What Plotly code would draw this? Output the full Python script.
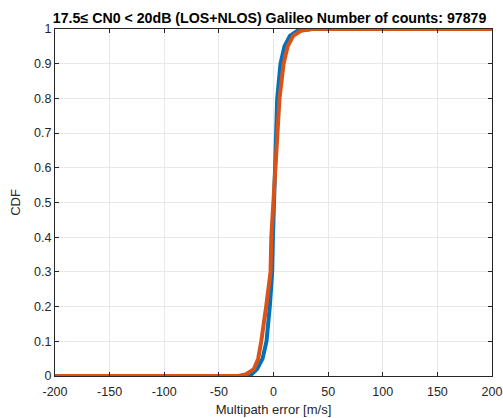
import plotly.graph_objects as go

# CDF levels and the error values (m/s) where each series reaches them
blue_x = [-200, -30, -20, -15, -10, -6.4, -3.4, -1.2, -0.5, 0.3, 1.8, 2.5, 3.4, 6.4, 10, 15, 22, 35, 200]
blue_cdf = [0, 0, 0.005, 0.02, 0.05, 0.1, 0.2, 0.3, 0.4, 0.5, 0.6, 0.7, 0.8, 0.9, 0.95, 0.98, 0.995, 1, 1]
orange_x = [-200, -32, -25, -18, -14, -11.2, -6.7, -2.7, -2.0, -0.3, 1.8, 3.0, 5.5, 9.2, 13, 18, 25, 35, 200]
orange_cdf = [0, 0, 0.005, 0.02, 0.05, 0.1, 0.2, 0.3, 0.4, 0.5, 0.6, 0.7, 0.8, 0.9, 0.95, 0.98, 0.995, 1, 1]

x_ticks = [-200, -150, -100, -50, 0, 50, 100, 150, 200]
x_labels = ["-200", "-150", "-100", "-50", "0", "50", "100", "150", "200"]
y_ticks = [0, 0.1, 0.2, 0.3, 0.4, 0.5, 0.6, 0.7, 0.8, 0.9, 1]
y_labels = ["0", "0.1", "0.2", "0.3", "0.4", "0.5", "0.6", "0.7", "0.8", "0.9", "1"]

title = "17.5\u2264 CN0 < 20dB (LOS+NLOS) Galileo Number of counts: 97879"
FONT = "Liberation Sans, Arial"

fig = go.Figure()
fig.add_trace(go.Scatter(x=blue_x, y=blue_cdf, mode="lines",
                         line=dict(color="#0072BD", width=4), showlegend=False))
fig.add_trace(go.Scatter(x=orange_x, y=orange_cdf, mode="lines",
                         line=dict(color="#D95319", width=4), showlegend=False))

axis_common = dict(showline=True, mirror="ticks", linecolor="#262626", linewidth=1,
                   ticks="inside", ticklen=4, tickcolor="#262626",
                   showgrid=True, gridcolor="#e8e8e8", gridwidth=1, zeroline=False,
                   automargin=False,
                   tickfont=dict(family=FONT, size=12.5, color="#262626"))

fig.update_layout(
    width=503, height=418,
    margin=dict(l=55, r=11, t=29, b=42),
    paper_bgcolor="white", plot_bgcolor="white",
    title=dict(text="<b>" + title + "</b>", x=0.536, xanchor="center", y=0.956, yanchor="middle",
               font=dict(family=FONT, size=14.2, color="#000000")),
    xaxis=dict(range=[-200, 200], tickvals=x_ticks, ticktext=x_labels, ticklabelstandoff=4,
               title=dict(text="Multipath error [m/s]", standoff=6,
                          font=dict(family=FONT, size=13, color="#262626")),
               **axis_common),
    yaxis=dict(range=[0, 1], tickvals=y_ticks, ticktext=y_labels,
               title=dict(text="CDF", standoff=10,
                          font=dict(family=FONT, size=13, color="#262626")),
               **axis_common),
)

fig.write_html("out.html", config={"displayModeBar": False},
               post_script="document.body.style.margin='0';document.body.style.overflow='hidden';")
